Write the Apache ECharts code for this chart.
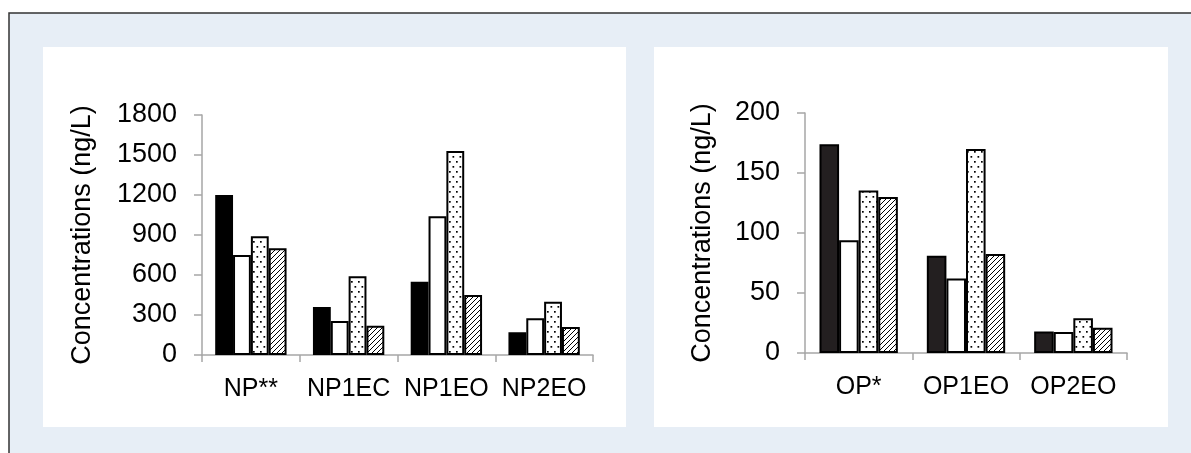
<!DOCTYPE html>
<html>
<head>
<meta charset="utf-8">
<script src="https://cdn.jsdelivr.net/npm/echarts@6/dist/echarts.min.js"></script>
<style>
html,body{margin:0;padding:0;background:#fff;}
#c{width:1191px;height:453px;}
</style>
</head>
<body>
<div id="c"></div>
<script>
// ---- data ----
const npCategories = ['NP**', 'NP1EC', 'NP1EO', 'NP2EO'];
const npSolid  = [1200, 360, 550, 170];
const npWhite  = [750, 255, 1040, 275];
const npDotted = [890, 590, 1530, 400];
const npHatch  = [800, 220, 450, 210];
const npTicks = [0, 300, 600, 900, 1200, 1500, 1800];

const opCategories = ['OP*', 'OP1EO', 'OP2EO'];
const opSolid  = [174, 81, 18];
const opWhite  = [94, 62, 17.5];
const opDotted = [135.5, 170, 29];
const opHatch  = [130, 82.5, 21];
const opTicks = [0, 50, 100, 150, 200];

const yTitle = 'Concentrations (ng/L)';

// ---- patterns ----
function dotPattern() {
  const c = document.createElement('canvas');
  c.width = 7; c.height = 10;
  const g = c.getContext('2d');
  g.fillStyle = '#fff'; g.fillRect(0, 0, 7, 10);
  g.fillStyle = '#000';
  g.fillRect(1, 1, 1.7, 1.7);
  g.fillRect(4.5, 6, 1.7, 1.7);
  return c;
}
function hatchPattern() {
  const c = document.createElement('canvas');
  c.width = 5; c.height = 5;
  const g = c.getContext('2d');
  g.fillStyle = '#fff'; g.fillRect(0, 0, 5, 5);
  g.strokeStyle = '#000'; g.lineWidth = 1;
  g.beginPath();
  g.moveTo(0, 5); g.lineTo(5, 0);
  g.moveTo(-1, 1); g.lineTo(1, -1);
  g.moveTo(4, 6); g.lineTo(6, 4);
  g.stroke();
  return c;
}
const dotFill = { image: dotPattern(), repeat: 'repeat' };
const hatchFill = { image: hatchPattern(), repeat: 'repeat' };

const FONT = 'Liberation Sans, Arial, sans-serif';
const axisGray = '#a6a6a6';

function yAxisCfg(idx, ticks, gap) {
  return {
    type: 'value', gridIndex: idx,
    min: ticks[0], max: ticks[ticks.length - 1], interval: ticks[1] - ticks[0],
    name: yTitle, nameLocation: 'middle', nameGap: gap,
    nameTextStyle: { fontFamily: FONT, fontSize: 27, color: '#000' },
    axisLine: { show: true, lineStyle: { color: axisGray, width: 1.5 } },
    axisTick: { show: true, length: 8, lineStyle: { color: axisGray, width: 1.5 } },
    splitLine: { show: false },
    axisLabel: { fontFamily: FONT, fontSize: 27, color: '#000', margin: 25,
                 formatter: function (v) { return String(v); } }
  };
}
function xAxisCfg(idx, cats) {
  return {
    type: 'category', gridIndex: idx, data: cats,
    axisLine: { show: true, lineStyle: { color: axisGray, width: 1.5 } },
    axisTick: { show: true, length: 7, alignWithLabel: false, lineStyle: { color: axisGray, width: 1.5 } },
    axisLabel: { fontFamily: FONT, fontSize: 25, color: '#000', margin: 22, interval: 0 }
  };
}
function barSeries(idx, data, fill) {
  return {
    type: 'bar', xAxisIndex: idx, yAxisIndex: idx, data: data,
    barGap: '0%', barCategoryGap: '27%',
    itemStyle: { color: fill, borderColor: '#000', borderWidth: 2 },
    emphasis: { disabled: true }, animation: false
  };
}

const chart = echarts.init(document.getElementById('c'), null, { renderer: 'canvas' });
chart.setOption({
  animation: false,
  backgroundColor: '#fff',
  graphic: [
    { type: 'rect', shape: { x: 9, y: 13, width: 1200, height: 460 }, style: { fill: '#e7eef6', stroke: '#333', lineWidth: 1.5 }, z: -10, silent: true },
    { type: 'rect', shape: { x: 43, y: 47, width: 583, height: 380 }, style: { fill: '#fff' }, z: -9, silent: true },
    { type: 'rect', shape: { x: 654, y: 47, width: 514, height: 380 }, style: { fill: '#fff' }, z: -9, silent: true }
  ],
  grid: [
    { left: 202, right: 598, top: 115, bottom: 98 },
    { left: 805, right: 64, top: 113, bottom: 100 }
  ],
  xAxis: [xAxisCfg(0, npCategories), xAxisCfg(1, opCategories)],
  yAxis: [yAxisCfg(0, npTicks, 106), yAxisCfg(1, opTicks, 89)],
  series: [
    barSeries(0, npSolid, '#000'),
    barSeries(0, npWhite, '#fff'),
    barSeries(0, npDotted, dotFill),
    barSeries(0, npHatch, hatchFill),
    barSeries(1, opSolid, '#231f20'),
    barSeries(1, opWhite, '#fff'),
    barSeries(1, opDotted, dotFill),
    barSeries(1, opHatch, hatchFill)
  ]
});
</script>
</body>
</html>
